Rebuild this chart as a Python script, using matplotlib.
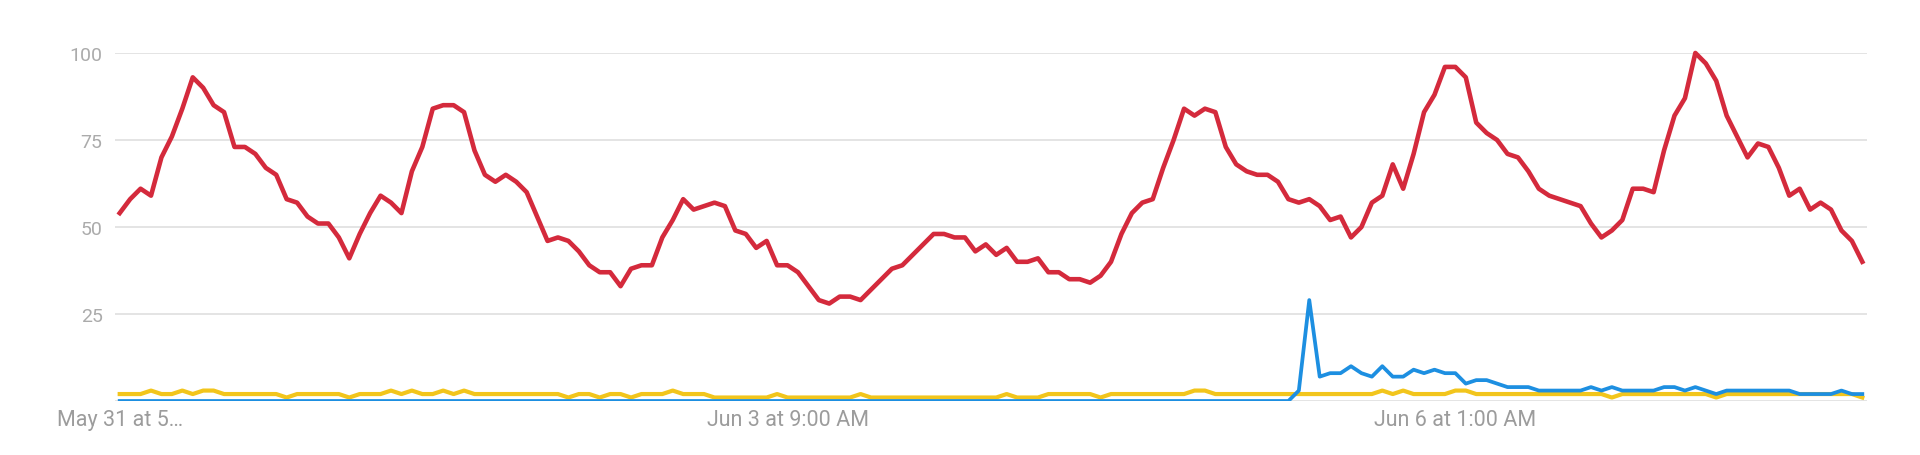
import matplotlib
matplotlib.use("Agg")
import matplotlib.pyplot as plt

plt.rcParams['font.family'] = ['Roboto', 'DejaVu Sans']

# hourly interest, May 31 5 PM -> Jun 7
red = [54, 58, 61, 59, 70, 76, 84, 93, 90, 85, 83, 73, 73, 71, 67, 65, 58, 57, 53, 51,
       51, 47, 41, 48, 54, 59, 57, 54, 66, 73, 84, 85, 85, 83, 72, 65, 63, 65, 63, 60,
       53, 46, 47, 46, 43, 39, 37, 37, 33, 38, 39, 39, 47, 52, 58, 55, 56, 57, 56, 49,
       48, 44, 46, 39, 39, 37, 33, 29, 28, 30, 30, 29, 32, 35, 38, 39, 42, 45, 48, 48,
       47, 47, 43, 45, 42, 44, 40, 40, 41, 37, 37, 35, 35, 34, 36, 40, 48, 54, 57, 58,
       67, 75, 84, 82, 84, 83, 73, 68, 66, 65, 65, 63, 58, 57, 58, 56, 52, 53, 47, 50,
       57, 59, 68, 61, 71, 83, 88, 96, 96, 93, 80, 77, 75, 71, 70, 66, 61, 59, 58, 57,
       56, 51, 47, 49, 52, 61, 61, 60, 72, 82, 87, 100, 97, 92, 82, 76, 70, 74, 73, 67,
       59, 61, 55, 57, 55, 49, 46, 40]

blue = [0] * 113 + [3, 29, 7, 8, 8, 10, 8, 7, 10, 7, 7, 9, 8, 9, 8, 8, 5, 6, 6, 5,
                    4, 4, 4, 3, 3, 3, 3, 3, 4, 3, 4, 3, 3, 3, 3, 4, 4, 3, 4, 3,
                    2, 3, 3, 3, 3, 3, 3, 3, 2, 2, 2, 2, 3, 2, 2]

yellow = [2, 2, 2, 3, 2, 2, 3, 2, 3, 3, 2, 2, 2, 2, 2, 2, 1, 2, 2, 2,
          2, 2, 1, 2, 2, 2, 3, 2, 3, 2, 2, 3, 2, 3, 2, 2, 2, 2, 2, 2,
          2, 2, 2, 1, 2, 2, 1, 2, 2, 1, 2, 2, 2, 3, 2, 2, 2, 1, 1, 1,
          1, 1, 1, 2, 1, 1, 1, 1, 1, 1, 1, 2, 1, 1, 1, 1, 1, 1, 1, 1,
          1, 1, 1, 1, 1, 2, 1, 1, 1, 2, 2, 2, 2, 2, 1, 2, 2, 2, 2, 2,
          2, 2, 2, 3, 3, 2, 2, 2, 2, 2, 2, 2, 2, 2, 2, 2, 2, 2, 2, 2,
          2, 3, 2, 3, 2, 2, 2, 2, 3, 3, 2, 2, 2, 2, 2, 2, 2, 2, 2, 2,
          2, 2, 2, 1, 2, 2, 2, 2, 2, 2, 2, 2, 2, 1, 2, 2, 2, 2, 2, 2,
          2, 2, 2, 2, 2, 2, 2, 1]

hours = list(range(len(red)))
xticks = [0, 64, 128]
xlabels = ['May 31 at 5\u2026', 'Jun 3 at 9:00 AM', 'Jun 6 at 1:00 AM']
yticks = [25, 50, 75, 100]

fig = plt.figure(figsize=(19.2, 4.56), dpi=100)
ax = fig.add_axes([0.0599, 0.1184, 0.9125, 0.7632])

for y in [0] + yticks:
    ax.axhline(y, color='#e4e4e4', lw=1.4, zorder=0)

ax.plot(hours, yellow, color='#f2c51c', lw=3.0, solid_joinstyle='round')
ax.plot(hours, blue, color='#1d8fe1', lw=2.7, solid_joinstyle='round')
ax.plot(hours, red, color='#d42a3c', lw=3.3, solid_joinstyle='round', clip_on=False)

ax.set_xlim(-0.45, len(red) - 1 + 0.45)
ax.set_ylim(0, 100)
ax.set_yticks(yticks)
ax.set_yticklabels([str(v) for v in yticks])
ax.set_xticks(xticks)
ax.set_xticklabels(xlabels)
ax.tick_params(axis='y', length=0, pad=9, labelsize=14, labelcolor='#ababab')
ax.tick_params(axis='x', length=0, pad=6, labelsize=15.5, labelcolor='#9c9c9c')
for s in ax.spines.values():
    s.set_visible(False)

fig.savefig('out.png', dpi=100, facecolor='white')
